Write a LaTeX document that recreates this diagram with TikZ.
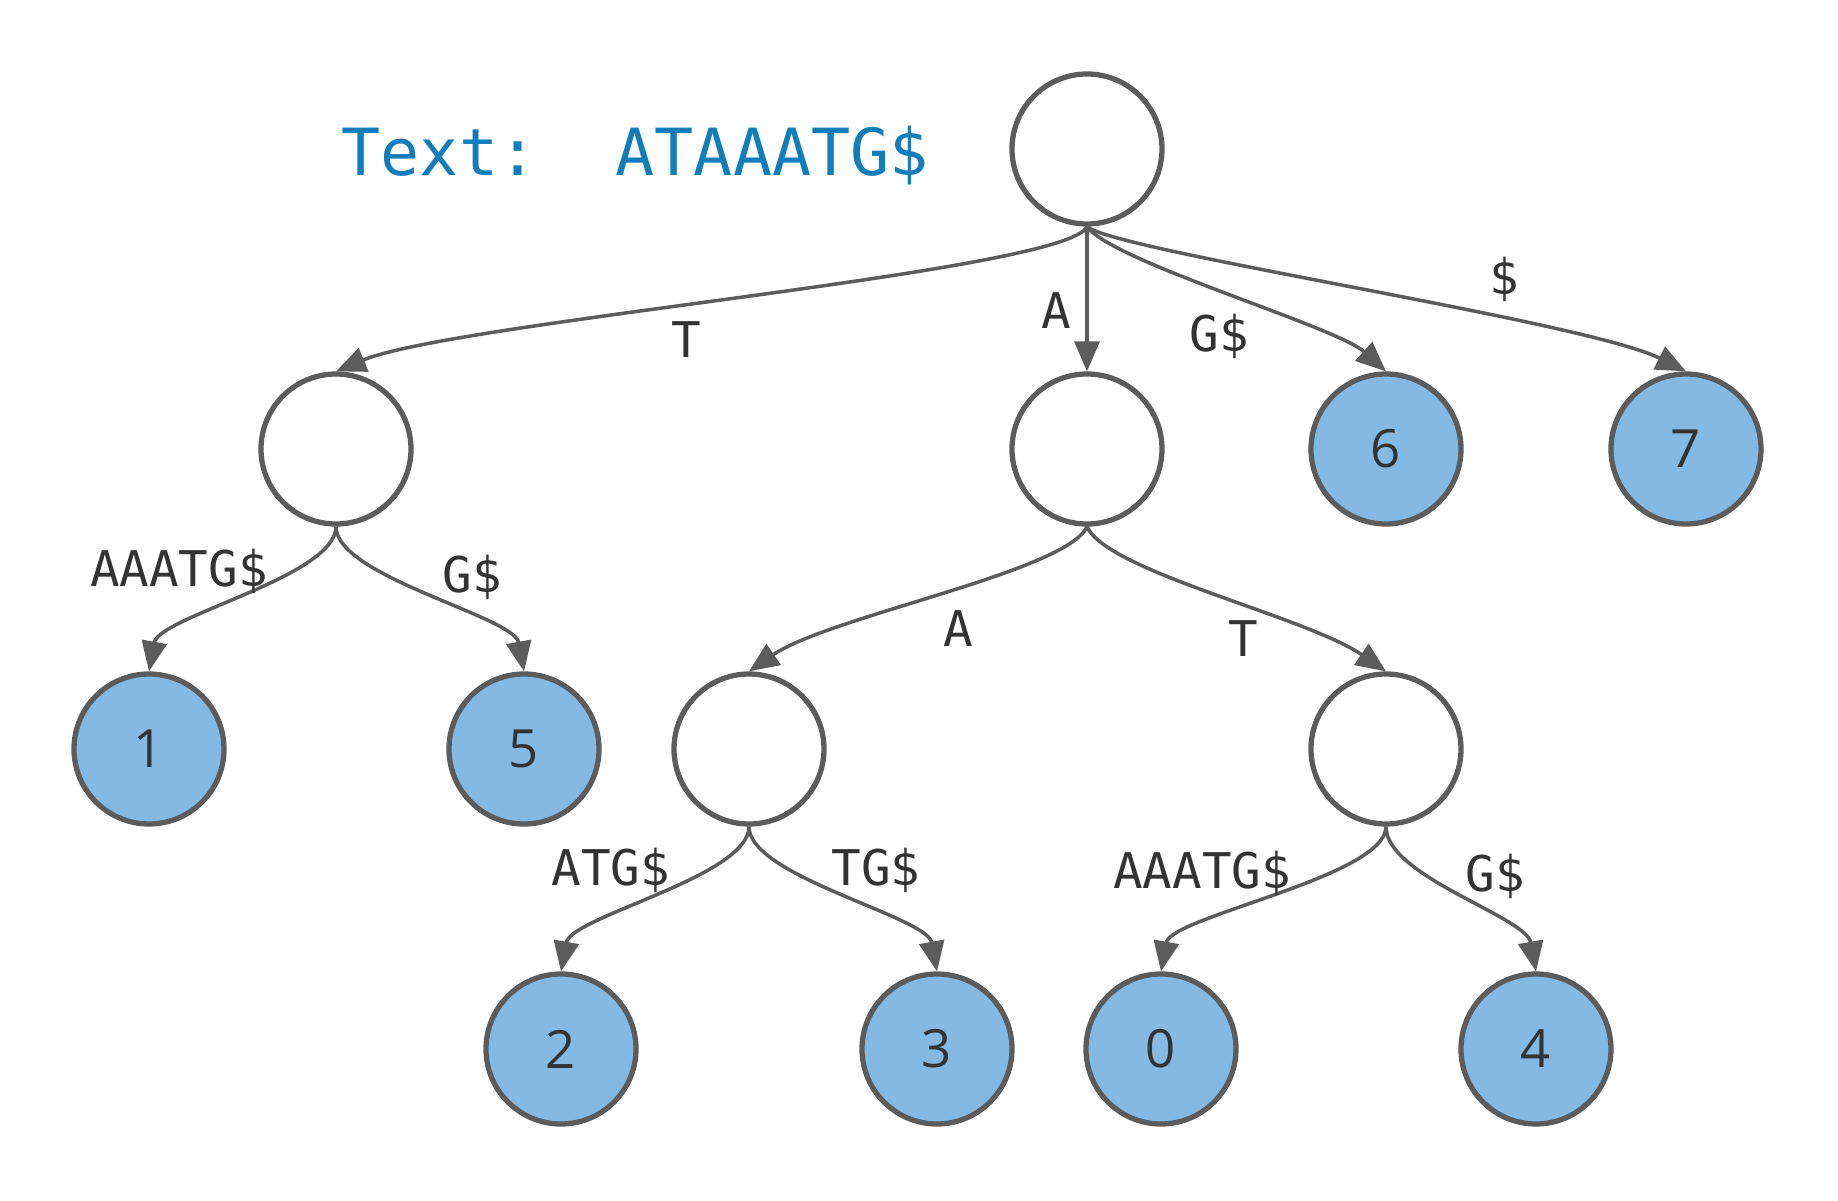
\documentclass[tikz,border=0pt]{standalone}
\usepackage{fontspec}
\usepackage{xcolor}
\usetikzlibrary{arrows.meta}
\newfontfamily\monofont{DejaVu Sans Mono}
\newfontfamily\digitfont{Open Sans}
\definecolor{edgegray}{RGB}{92, 92, 92}
\definecolor{ink}{RGB}{51, 51, 51}
\definecolor{leafblue}{RGB}{132, 185, 227}
\definecolor{textblue}{RGB}{17, 125, 187}
\tikzset{
    inner/.style={circle, draw=edgegray, line width=1.5pt, fill=white, minimum size=1.5cm, inner sep=0pt},
    leaf/.style={inner, fill=leafblue, text=ink, font=\digitfont\fontsize{15}{18}\selectfont},
    lbl/.style={text=ink, font=\monofont\fontsize{14}{16}\selectfont, inner sep=0pt},
    title/.style={text=textblue, font=\monofont\fontsize{18.5}{22}\selectfont, inner sep=0pt},
    arr/.style={-{Triangle[length=3mm, width=2.5mm]}, line width=1pt, draw=edgegray}
}

\begin{document}
\begin{tikzpicture}
    \useasboundingbox (0,0) rectangle (18.38,12);
    \node[title, anchor=base west] (text) at (3.41,10.24) {Text:\ \ ATAAATG\$};
    % internal nodes
    \node[inner] (root) at (10.87,10.51) {};
    \node[inner] (nT) at (3.36,7.51) {};
    \node[inner] (nA) at (10.87,7.51) {};
    \node[inner] (nAA) at (7.49,4.51) {};
    \node[inner] (nAT) at (13.86,4.51) {};
    % leaves
    \node[leaf] (leaf6) at (13.86,7.51) {6};
    \node[leaf] (leaf7) at (16.86,7.51) {7};
    \node[leaf] (leaf1) at (1.49,4.51) {1};
    \node[leaf] (leaf5) at (5.24,4.51) {5};
    \node[leaf] (leaf2) at (5.61,1.51) {2};
    \node[leaf] (leaf3) at (9.37,1.51) {3};
    \node[leaf] (leaf0) at (11.61,1.51) {0};
    \node[leaf] (leaf4) at (15.36,1.51) {4};
    % edges
    \draw[arr] (root.south) .. controls +(-0.2,-0.45) and +(1.2,0.5) .. (nT.north);
    \draw[arr] (root.south) -- (nA.north);
    \draw[arr] (root.south) .. controls +(0.25,-0.35) and +(-0.5,0.45) .. (leaf6.north);
    \draw[arr] (root.south) .. controls +(0.3,-0.25) and +(-1.0,0.5) .. (leaf7.north);
    \draw[arr] (nT.south) .. controls +(0,-0.5) and +(0.1,0.55) .. (leaf1.north);
    \draw[arr] (nT.south) .. controls +(0,-0.5) and +(-0.1,0.55) .. (leaf5.north);
    \draw[arr] (nA.south) .. controls +(-0.2,-0.45) and +(0.8,0.55) .. (nAA.north);
    \draw[arr] (nA.south) .. controls +(0.2,-0.45) and +(-0.8,0.55) .. (nAT.north);
    \draw[arr] (nAA.south) .. controls +(0,-0.5) and +(0.1,0.55) .. (leaf2.north);
    \draw[arr] (nAA.south) .. controls +(0,-0.5) and +(-0.1,0.55) .. (leaf3.north);
    \draw[arr] (nAT.south) .. controls +(0,-0.5) and +(0.1,0.55) .. (leaf0.north);
    \draw[arr] (nAT.south) .. controls +(0,-0.5) and +(-0.1,0.55) .. (leaf4.north);
    % edge labels
    \node[lbl] (lT) at (6.86,8.60) {T};
    \node[lbl] (lA) at (10.56,8.89) {A};
    \node[lbl] (lG) at (12.19,8.64) {G\$};
    \node[lbl] (lEnd) at (15.04,9.21) {\$};
    \node[lbl] (lTA) at (1.79,6.29) {AAATG\$};
    \node[lbl] (lTG) at (4.72,6.23) {G\$};
    \node[lbl] (lAA) at (9.58,5.71) {A};
    \node[lbl] (lAT) at (12.43,5.61) {T};
    \node[lbl] (lAAA) at (6.11,3.30) {ATG\$};
    \node[lbl] (lAAT) at (8.76,3.30) {TG\$};
    \node[lbl] (lATA) at (12.02,3.27) {AAATG\$};
    \node[lbl] (lATG) at (14.95,3.24) {G\$};
\end{tikzpicture}
\end{document}
